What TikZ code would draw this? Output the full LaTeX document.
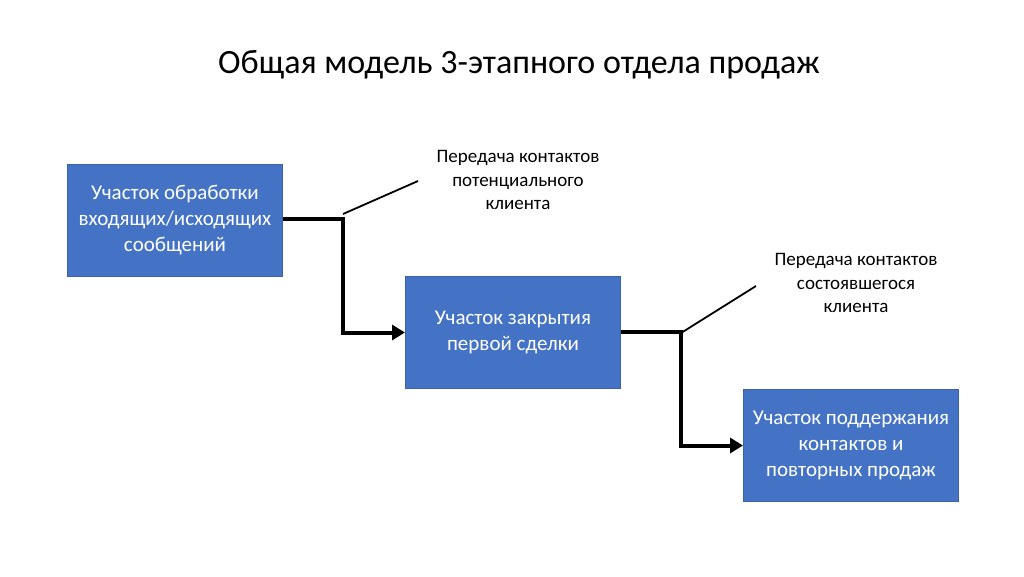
\documentclass[tikz,border=0pt]{standalone}
\usepackage{fontspec}
\setmainfont{Carlito}
\usetikzlibrary{arrows.meta}
\definecolor{boxfill}{HTML}{4472C4}
\definecolor{boxedge}{HTML}{3A62AA}
\begin{document}
\begin{tikzpicture}[x=1pt,y=-1pt,
  stagebox/.style={draw=boxedge,line width=1pt,fill=boxfill,text=white,minimum width=215pt,minimum height=112pt,inner sep=0pt,align=center,font=\fontsize{21}{26}\selectfont},
  lbl/.style={align=center,font=\fontsize{19}{23.3}\selectfont},
  flow/.style={line width=4pt,-{Triangle[length=13pt,width=15pt]}},
  tick/.style={line width=1.8pt}]
\useasboundingbox (0,0) rectangle (1024,576);
\node[font=\fontsize{34}{40}\selectfont] (title) at (519,65) {Общая модель 3-этапного отдела продаж};
\node[stagebox,anchor=north west] (b1) at (67,164) {Участок обработки\\входящих/исходящих\\сообщений};
\node[stagebox,anchor=north west] (b2) at (405,276) {Участок закрытия\\первой сделки};
\node[stagebox,anchor=north west] (b3) at (743,389) {Участок поддержания\\контактов и\\повторных продаж};
\coordinate (j1) at (343,219);
\coordinate (j2) at (681,332);
\coordinate (t1) at (418,181);
\coordinate (t2) at (756,286);
\node[lbl] (l1) at (518,180) {Передача контактов\\потенциального\\клиента};
\node[lbl] (l2) at (856,283) {Передача контактов\\состоявшегося\\клиента};
\draw[flow] (b1.east |- j1) -- (j1) |- (b2.west);
\draw[flow] (b2.east |- j2) -- (j2) |- (b3.west);
\draw[tick] ([yshift=5pt]j1) -- (t1);
\draw[tick] ([yshift=-1pt]j2) -- (t2);
\end{tikzpicture}
\end{document}
